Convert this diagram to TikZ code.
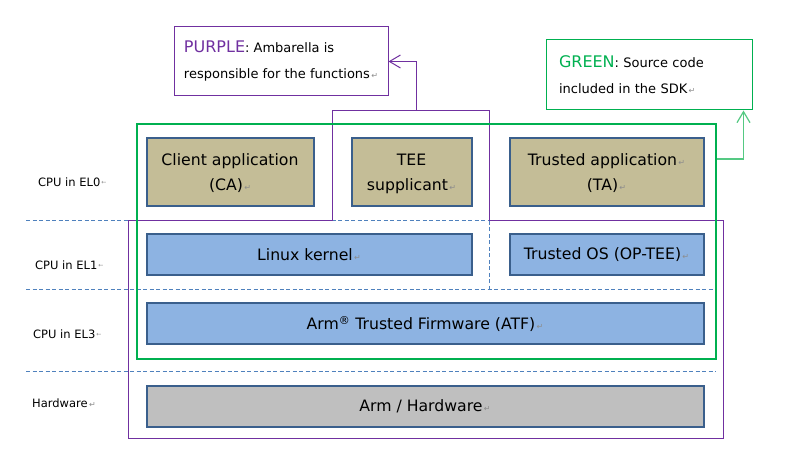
\documentclass[tikz,border=0pt]{standalone}
\usepackage{fontspec}
\setmainfont{DejaVu Sans}
\usetikzlibrary{arrows.meta}
\definecolor{amba}{HTML}{7030A0}
\definecolor{sdkgreen}{HTML}{00B050}
\definecolor{arrowgreen}{HTML}{55C983}
\definecolor{tan}{HTML}{C4BD97}
\definecolor{skyblue}{HTML}{8DB3E2}
\definecolor{hwgray}{HTML}{BFBFBF}
\definecolor{boxedge}{HTML}{3A5F8C}
\definecolor{dashline}{HTML}{4F81BD}
\definecolor{markgray}{HTML}{8C8C8C}
\newcommand\pmk{{\color{markgray}\fontsize{8}{8}\selectfont\,↵}}
\newcommand\lmk{{\color{markgray}\fontsize{6}{6}\selectfont\,\raisebox{1.5pt}{←}}}

\begin{document}
\begin{tikzpicture}[x=1pt, y=-1pt, >={Straight Barb[length=11pt, width=13pt]},
  tier/.style={draw=boxedge, line width=2pt, inner sep=0pt, minimum height=41pt,
    align=center, font=\fontsize{15.7}{25}\selectfont},
  app/.style={tier, fill=tan, minimum height=68pt, text depth=0pt},
  kern/.style={tier, fill=skyblue},
  note/.style={draw=#1, line width=1pt, inner sep=0pt, align=left,
    font=\fontsize{13}{26}\selectfont},
  level/.style={anchor=west, inner sep=0pt, font=\fontsize{11.5}{11.5}\selectfont},
  sep/.style={dashline, line width=1pt, dash pattern=on 4pt off 2.5pt}]
  \useasboundingbox (0,0) rectangle (788,462);

  % exception level separators
  \foreach \y in {221,290,372}
    \draw[sep] (26,\y) -- (716,\y);
  \draw[sep] (489,221) -- (489,290);

  % Ambarella part
  \draw[amba, line width=1pt] (332,111) -- (489,111) -- (489,221) -- (723,221)
    -- (723,439) -- (128,439) -- (128,221) -- (332,221) -- cycle;
  \coordinate (ambatop) at (416,111);

  % SDK frame
  \node[draw=sdkgreen, line width=2pt, minimum width=579pt, minimum height=235pt] (sdk) at (426.5,241.5) {};

  \node[level] (el0) at (38,182) {CPU in EL0\lmk};
  \node[level] (el1) at (35,265) {CPU in EL1\lmk};
  \node[level] (el3) at (33,334) {CPU in EL3\lmk};
  \node[level] (hwlvl) at (32,403) {Hardware\pmk};

  \node[app, minimum width=167pt] (ca) at (230,172.5) {Client application\\(CA)\pmk};
  \node[app, minimum width=120pt] (tee) at (411.5,172.5) {TEE\\supplicant\pmk};
  \node[app, minimum width=194pt] (ta) at (606.5,172.5) {Trusted application\pmk\\(TA)\pmk};
  \node[kern, minimum width=325pt] (linux) at (309,255) {Linux kernel\pmk};
  \node[kern, minimum width=194pt] (optee) at (606.5,255) {Trusted OS (OP-TEE)\pmk};
  \node[kern, minimum width=557pt] (atf) at (425,324) {Arm\textsuperscript{®} Trusted Firmware (ATF)\pmk};
  \node[tier, fill=hwgray, minimum width=557pt] (hw) at (425,406.5) {Arm / Hardware\pmk};

  % legend
  \node[note=amba, minimum width=214pt, minimum height=69pt] (purplenote) at (281,61.5)
    {{\color{amba}\fontsize{16}{26}\selectfont PURPLE}: Ambarella is\\responsible for the functions\pmk};
  \node[note=sdkgreen, text width=180pt, minimum width=206pt, minimum height=70pt] (greennote) at (649,75)
    {{\color{sdkgreen}\fontsize{16}{26}\selectfont GREEN}: Source code\\included in the SDK\pmk};

  \draw[amba, line width=1pt, ->] (ambatop) |- (purplenote.east);
  \draw[arrowgreen, line width=1.2pt, ->] (sdk.east |- 0,159) -| ([xshift=-9pt]greennote.south east);
\end{tikzpicture}
\end{document}
